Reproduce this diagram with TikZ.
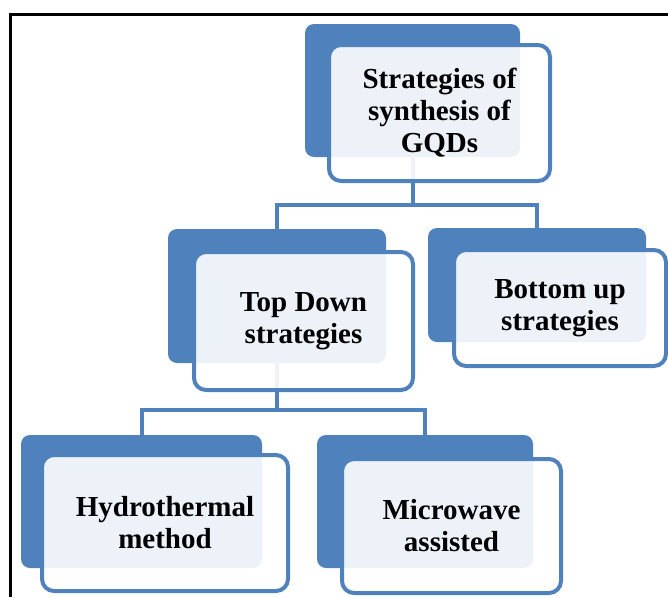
\documentclass[tikz,border=0pt]{standalone}
\usepackage{fontspec}
\setmainfont{Liberation Serif}
\usepackage{xcolor}
\usetikzlibrary{positioning, backgrounds}
\definecolor{gqdblue}{HTML}{4F81BD}
\tikzset{backblock/.style={fill=gqdblue, rounded corners=9pt, inner sep=0pt},
block/.style={draw=gqdblue, line width=4pt, fill=white, fill opacity=0.9, text opacity=1, rounded corners=12pt, align=center, inner sep=0pt, font=\fontsize{29}{32}\selectfont\bfseries},
line/.style={draw=gqdblue, line width=4pt}
}

\begin{document}
\begin{tikzpicture}[x=1pt, y=-1pt]
\useasboundingbox (0,0) rectangle (668,597);
\draw[line width=2.5pt] (668,14.5) -| (10.3,597);
 % back plates, then the boxes with text on top
 \node[backblock, minimum width=215pt, minimum height=133pt] (ga) at (412.5,90.5) {};
 \node[block, minimum width=221pt, minimum height=136pt] (a) at (439.5,113) {Strategies of\\synthesis of\\GQDs};
 \node[backblock, minimum width=218pt, minimum height=134pt] (gb) at (277,296) {};
 \node[block, minimum width=219pt, minimum height=138pt] (b) at (303.5,321) {Top Down\\strategies};
 \node[backblock, minimum width=218pt, minimum height=114pt] (gc) at (537,285) {};
 \node[block, minimum width=212pt, minimum height=116pt] (c) at (560,308) {Bottom up\\strategies};
 \node[backblock, minimum width=241pt, minimum height=133pt] (gd) at (141.5,501.5) {};
 \node[block, minimum width=246pt, minimum height=136pt] (d) at (165,523) {Hydrothermal\\method};
 \node[backblock, minimum width=216pt, minimum height=133pt] (ge) at (425,501.5) {};
 \node[block, minimum width=219pt, minimum height=134pt] (e) at (451.5,526) {Microwave\\assisted};
 \begin{scope}[on background layer]
  \draw[line] (ga.south) -- ++(0,48) -| (gb.north);
  \draw[line] (ga.south) -- ++(0,48) -| (gc.north);
  \draw[line] (gb.south) -- ++(0,47) -| (gd.north);
  \draw[line] (gb.south) -- ++(0,47) -| (ge.north);
 \end{scope}
\end{tikzpicture}
\end{document}
